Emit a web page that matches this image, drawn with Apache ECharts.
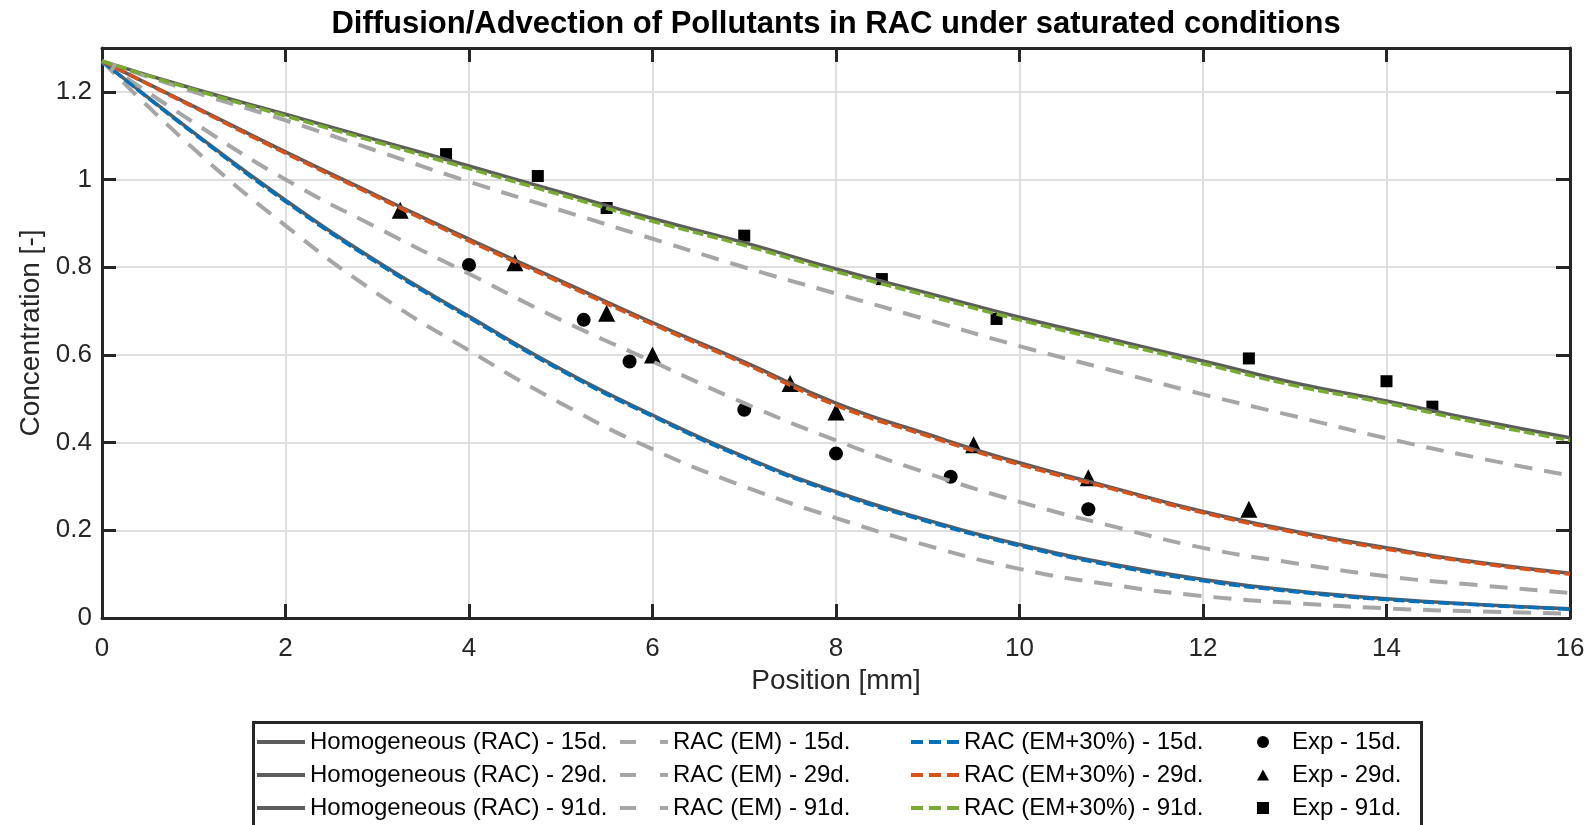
<!DOCTYPE html>
<html>
<head>
<meta charset="utf-8">
<script src="https://cdn.jsdelivr.net/npm/echarts@6/dist/echarts.min.js"></script>
<style>
  html, body { margin: 0; padding: 0; background: #ffffff; }
  #chart { width: 1593px; height: 825px; }
</style>
</head>
<body>
<div id="chart"></div>
<script>
// Position along the specimen [mm] at which the model curves are sampled
const positions = [0, 1, 2, 3, 4, 5, 6, 7, 8, 9, 10, 11, 12, 13, 14, 15, 16];

// Homogeneous (RAC) model
const homog15 = [1.27, 1.107, 0.953, 0.813, 0.688, 0.568, 0.463, 0.368, 0.288, 0.223, 0.168, 0.123, 0.088, 0.062, 0.044, 0.031, 0.021];
const homog29 = [1.27, 1.167, 1.063, 0.963, 0.864, 0.769, 0.674, 0.584, 0.49, 0.419, 0.354, 0.298, 0.243, 0.198, 0.16, 0.127, 0.102];
const homog91 = [1.27, 1.207, 1.149, 1.09, 1.031, 0.971, 0.911, 0.856, 0.796, 0.741, 0.686, 0.636, 0.586, 0.536, 0.495, 0.451, 0.411];

// RAC (EM) model
const em15 = [1.27, 1.07, 0.895, 0.74, 0.61, 0.49, 0.385, 0.3, 0.228, 0.165, 0.112, 0.076, 0.05, 0.034, 0.022, 0.015, 0.01];
const em29 = [1.27, 1.13, 1.0, 0.89, 0.785, 0.68, 0.585, 0.49, 0.405, 0.33, 0.265, 0.21, 0.16, 0.125, 0.095, 0.075, 0.057];
const em91 = [1.27, 1.2, 1.135, 1.065, 0.995, 0.93, 0.865, 0.8, 0.74, 0.68, 0.62, 0.565, 0.51, 0.46, 0.41, 0.365, 0.325];

// RAC (EM+30%) model
const emp15 = [1.27, 1.105, 0.95, 0.81, 0.685, 0.565, 0.46, 0.365, 0.285, 0.22, 0.165, 0.12, 0.085, 0.06, 0.042, 0.03, 0.02];
const emp29 = [1.27, 1.165, 1.06, 0.96, 0.86, 0.765, 0.67, 0.58, 0.485, 0.415, 0.35, 0.295, 0.24, 0.195, 0.157, 0.125, 0.1];
const emp91 = [1.27, 1.205, 1.145, 1.085, 1.025, 0.965, 0.905, 0.85, 0.79, 0.735, 0.68, 0.63, 0.58, 0.53, 0.49, 0.445, 0.405];

// Experimental measurements [position, concentration]
const exp15 = [[4, 0.805], [5.25, 0.68], [5.75, 0.585], [7, 0.475], [8, 0.375], [9.25, 0.322], [10.75, 0.248]];
const exp29 = [[3.25, 0.93], [4.5, 0.81], [5.5, 0.695], [6, 0.6], [7.5, 0.535], [8, 0.47], [9.5, 0.395], [10.75, 0.32], [12.5, 0.248]];
const exp91 = [[3.75, 1.058], [4.75, 1.008], [5.5, 0.935], [7, 0.872], [8.5, 0.773], [9.75, 0.682], [12.5, 0.592], [14, 0.54], [14.5, 0.482]];

// Axis ticks
const xTicks = { min: 0, max: 16, step: 2 };
const yTicks = { min: 0, max: 1.3, step: 0.2 };

const TITLE = 'Diffusion/Advection of Pollutants in RAC under saturated conditions';
const FONT = 'Liberation Sans, Arial, Helvetica, sans-serif';
const AXIS_COLOR = '#262626';
const GRAY_SOLID = '#5c5c5c';
const GRAY_DASH = '#a6a6a6';
const BLUE = '#0072BD';
const ORANGE = '#D95319';
const GREEN = '#77AC30';

const pairs = arr => positions.map((x, i) => [x, arr[i]]);

function solidLine(name, arr) {
  return {
    name, type: 'line', data: pairs(arr), color: GRAY_SOLID,
    symbol: 'none', showSymbol: false, smooth: true,
    lineStyle: { color: GRAY_SOLID, width: 3.5 }
  };
}
function emLine(name, arr) {
  return {
    name, type: 'line', data: pairs(arr), color: GRAY_DASH,
    symbol: 'none', showSymbol: false, smooth: true,
    lineStyle: { color: GRAY_DASH, width: 4, type: [18, 12] }
  };
}
function empLine(name, arr, color) {
  return {
    name, type: 'line', data: pairs(arr), color,
    symbol: 'none', showSymbol: false, smooth: true,
    lineStyle: { color, width: 3.5, type: [11, 4] }
  };
}
function expPoints(name, pts, symbol, size) {
  return {
    name, type: 'scatter', data: pts, color: '#000000',
    symbol, symbolSize: size, itemStyle: { color: '#000000', opacity: 1 }
  };
}

// Legend icons
const ICON_SOLID = 'path://M0,0H48V4H0Z';
const ICON_EM = 'path://M0,0H16V4H0Z M40,0H48V4H40Z';
const ICON_EMP = 'path://M0,0H12V4H0Z M18,0H30V4H18Z M36,0H48V4H36Z';
const ICON_TRI = 'path://M6,0L12,11H0Z';
const ICON_SQ = 'path://M0,0H10V10H0Z';

const names = {
  h: ['Homogeneous (RAC) - 15d.', 'Homogeneous (RAC) - 29d.', 'Homogeneous (RAC) - 91d.'],
  em: ['RAC (EM) - 15d.', 'RAC (EM) - 29d.', 'RAC (EM) - 91d.'],
  emp: ['RAC (EM+30%) - 15d.', 'RAC (EM+30%) - 29d.', 'RAC (EM+30%) - 91d.'],
  exp: ['Exp - 15d.', 'Exp - 29d.', 'Exp - 91d.']
};

function legendColumn(left, data, extra) {
  return Object.assign({
    orient: 'vertical', left, top: 730, padding: 0,
    itemWidth: 48, itemHeight: 14, itemGap: 9,
    selectedMode: false,
    itemStyle: { borderWidth: 0 },
    textStyle: { fontFamily: FONT, fontSize: 24, color: '#000000', lineHeight: 24 },
    data
  }, extra || {});
}

const chart = echarts.init(document.getElementById('chart'), null, { renderer: 'canvas' });

chart.setOption({
  animation: false,
  backgroundColor: '#ffffff',
  textStyle: { fontFamily: FONT },
  grid: { left: 102, right: 23, top: 48, bottom: 207, containLabel: false },
  xAxis: [
    {
      type: 'value', min: xTicks.min, max: xTicks.max, interval: xTicks.step,
      name: 'Position [mm]', nameLocation: 'middle', nameGap: 38,
      nameTextStyle: { fontFamily: FONT, fontSize: 28, color: AXIS_COLOR },
      axisLine: { show: true, onZero: false, lineStyle: { color: AXIS_COLOR, width: 3 } },
      axisTick: { show: true, inside: true, length: 14, lineStyle: { color: AXIS_COLOR, width: 3 } },
      axisLabel: { fontFamily: FONT, fontSize: 26, color: AXIS_COLOR, margin: 18 },
      splitLine: { show: true, lineStyle: { color: '#dfdfdf', width: 2 } }
    },
    {
      type: 'value', position: 'top', min: xTicks.min, max: xTicks.max, interval: xTicks.step,
      axisLine: { show: true, onZero: false, lineStyle: { color: AXIS_COLOR, width: 3 } },
      axisTick: { show: true, inside: true, length: 14, lineStyle: { color: AXIS_COLOR, width: 3 } },
      axisLabel: { show: false },
      splitLine: { show: false }
    }
  ],
  yAxis: [
    {
      type: 'value', min: yTicks.min, max: yTicks.max, interval: yTicks.step,
      name: 'Concentration [-]', nameLocation: 'middle', nameGap: 57,
      nameTextStyle: { fontFamily: FONT, fontSize: 28, color: AXIS_COLOR },
      axisLine: { show: true, onZero: false, lineStyle: { color: AXIS_COLOR, width: 3 } },
      axisTick: { show: true, inside: true, length: 14, lineStyle: { color: AXIS_COLOR, width: 3 } },
      axisLabel: { fontFamily: FONT, fontSize: 26, color: AXIS_COLOR, margin: 10, showMaxLabel: false },
      splitLine: { show: true, lineStyle: { color: '#dfdfdf', width: 2 } }
    },
    {
      type: 'value', position: 'right', min: yTicks.min, max: yTicks.max, interval: yTicks.step,
      axisLine: { show: true, onZero: false, lineStyle: { color: AXIS_COLOR, width: 3 } },
      axisTick: { show: true, inside: true, length: 14, lineStyle: { color: AXIS_COLOR, width: 3 } },
      axisLabel: { show: false },
      splitLine: { show: false }
    }
  ],
  legend: [
    legendColumn(257, names.h.map(n => ({ name: n, icon: ICON_SOLID }))),
    legendColumn(620, names.em.map(n => ({ name: n, icon: ICON_EM }))),
    legendColumn(911, names.emp.map(n => ({ name: n, icon: ICON_EMP }))),
    legendColumn(1257, [
      { name: names.exp[0], icon: 'circle' },
      { name: names.exp[1], icon: ICON_TRI },
      { name: names.exp[2], icon: ICON_SQ }
    ], {
      itemWidth: 12, itemHeight: 12, itemGap: 9,
      textStyle: { fontFamily: FONT, fontSize: 24, color: '#000000', lineHeight: 24, padding: [0, 0, 0, 18] }
    })
  ],
  graphic: [
    {
      type: 'text', x: 836, y: 24, silent: true,
      style: {
        text: TITLE, fill: '#000000', align: 'center', verticalAlign: 'middle',
        font: 'bold 31px ' + FONT
      }
    },
    {
      type: 'rect', left: 251, top: 720, silent: true,
      shape: { width: 1168, height: 140 },
      style: { fill: 'none', stroke: AXIS_COLOR, lineWidth: 3 }
    }
  ],
  series: [
    solidLine(names.h[0], homog15),
    solidLine(names.h[1], homog29),
    solidLine(names.h[2], homog91),
    emLine(names.em[0], em15),
    emLine(names.em[1], em29),
    emLine(names.em[2], em91),
    empLine(names.emp[0], emp15, BLUE),
    empLine(names.emp[1], emp29, ORANGE),
    empLine(names.emp[2], emp91, GREEN),
    expPoints(names.exp[0], exp15, 'circle', 14),
    expPoints(names.exp[1], exp29, 'triangle', 17),
    expPoints(names.exp[2], exp91, 'rect', 12)
  ]
});
</script>
</body>
</html>
